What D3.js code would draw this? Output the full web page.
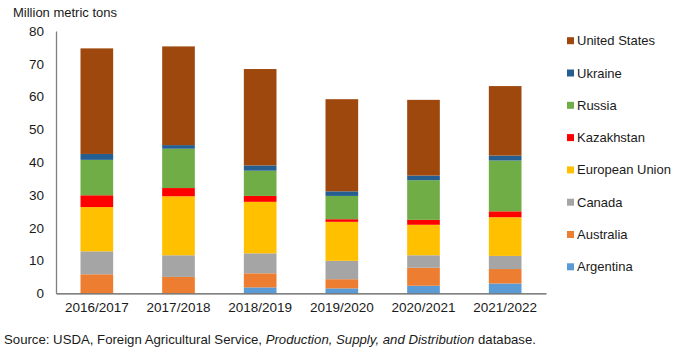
<!DOCTYPE html>
<html>
<head>
<meta charset="utf-8">
<script src="https://cdn.jsdelivr.net/npm/d3@7"></script>
<style>
  html, body { margin: 0; padding: 0; background: #fff; }
  svg { display: block; font-family: "Liberation Sans", Arial, sans-serif; }
</style>
</head>
<body>
<svg id="chart" width="680" height="355"></svg>
<script>
const years = ["2016/2017", "2017/2018", "2018/2019", "2019/2020", "2020/2021", "2021/2022"];
const argentina     = [0.0, 0.0, 1.8, 1.5, 2.3, 3.0];
const australia     = [5.8, 5.0, 4.3, 2.8, 5.5, 4.4];
const canada        = [7.0, 6.6, 6.1, 5.6, 3.8, 4.0];
const europeanUnion = [13.5, 18.0, 15.7, 11.9, 9.3, 11.8];
const kazakhstan    = [3.6, 2.5, 1.8, 0.8, 1.5, 1.8];
const russia        = [10.8, 12.0, 7.7, 7.1, 12.1, 15.5];
const ukraine       = [1.8, 1.1, 1.6, 1.4, 1.4, 1.5];
const unitedStates  = [32.2, 30.1, 29.4, 28.1, 23.1, 21.2];
const yTicks = [0, 10, 20, 30, 40, 50, 60, 70, 80];

const seriesNames = ["Argentina", "Australia", "Canada", "European Union", "Kazakhstan", "Russia", "Ukraine", "United States"];
const seriesValues = [argentina, australia, canada, europeanUnion, kazakhstan, russia, ukraine, unitedStates];
const colors = ["#5B9BD5", "#ED7D31", "#A5A5A5", "#FFC000", "#FF0000", "#70AD47", "#255E91", "#9E480E"];

const rows = years.map((y, i) => {
  const r = { year: y };
  seriesNames.forEach((n, k) => r[n] = seriesValues[k][i]);
  return r;
});

const svg = d3.select("#chart");
const x = d3.scaleBand().domain(years).range([56, 546]).paddingInner(0.6).paddingOuter(0.3);
const y = d3.scaleLinear().domain([0, 80]).range([293.3, 31]);
const color = d3.scaleOrdinal().domain(seriesNames).range(colors);

const stack = d3.stack().keys(seriesNames)(rows);

svg.append("g").selectAll("g").data(stack).join("g")
  .attr("fill", d => color(d.key))
  .selectAll("rect").data(d => d).join("rect")
  .attr("x", d => x(d.data.year))
  .attr("width", x.bandwidth())
  .attr("y", d => y(d[1]))
  .attr("height", d => Math.max(0, y(d[0]) - y(d[1])));

// Y axis
const yAxis = svg.append("g").attr("transform", "translate(56,0)")
  .call(d3.axisLeft(y).tickValues(yTicks).tickSize(0).tickPadding(12));
yAxis.select(".domain").attr("stroke", "#7f7f7f").attr("stroke-width", 1.3);
yAxis.selectAll("text").attr("font-size", 13.5).attr("fill", "#1a1a1a").attr("font-family", "Liberation Sans, Arial, sans-serif");

// X axis
const xAxis = svg.append("g").attr("transform", "translate(0,293.3)")
  .call(d3.axisBottom(x).tickSize(0).tickPadding(9));
xAxis.select(".domain").attr("stroke", "#595959").attr("stroke-width", 1.3);
xAxis.selectAll("text").attr("font-size", 13.5).attr("fill", "#1a1a1a").attr("font-family", "Liberation Sans, Arial, sans-serif");

// Title
svg.append("text").attr("x", 13).attr("y", 17).attr("font-size", 13).attr("fill", "#1a1a1a")
  .text("Million metric tons");

// Legend (top to bottom: reverse of stack order)
const legendNames = seriesNames.slice().reverse();
const lg = svg.append("g").selectAll("g").data(legendNames).join("g")
  .attr("transform", (d, i) => `translate(567,${40.7 + i * 32.3})`);
lg.append("rect").attr("x", 0).attr("y", -3.5).attr("width", 7).attr("height", 7).attr("fill", d => color(d));
lg.append("text").attr("x", 10).attr("y", 0).attr("dy", "0.35em").attr("font-size", 13).attr("fill", "#1a1a1a").text(d => d);

// Source
const src = svg.append("text").attr("x", 4).attr("y", 344).attr("font-size", 13.2).attr("fill", "#1a1a1a");
src.append("tspan").text("Source: USDA, Foreign Agricultural Service, ");
src.append("tspan").attr("font-style", "italic").text("Production, Supply, and Distribution");
src.append("tspan").text(" database.");
</script>
</body>
</html>
